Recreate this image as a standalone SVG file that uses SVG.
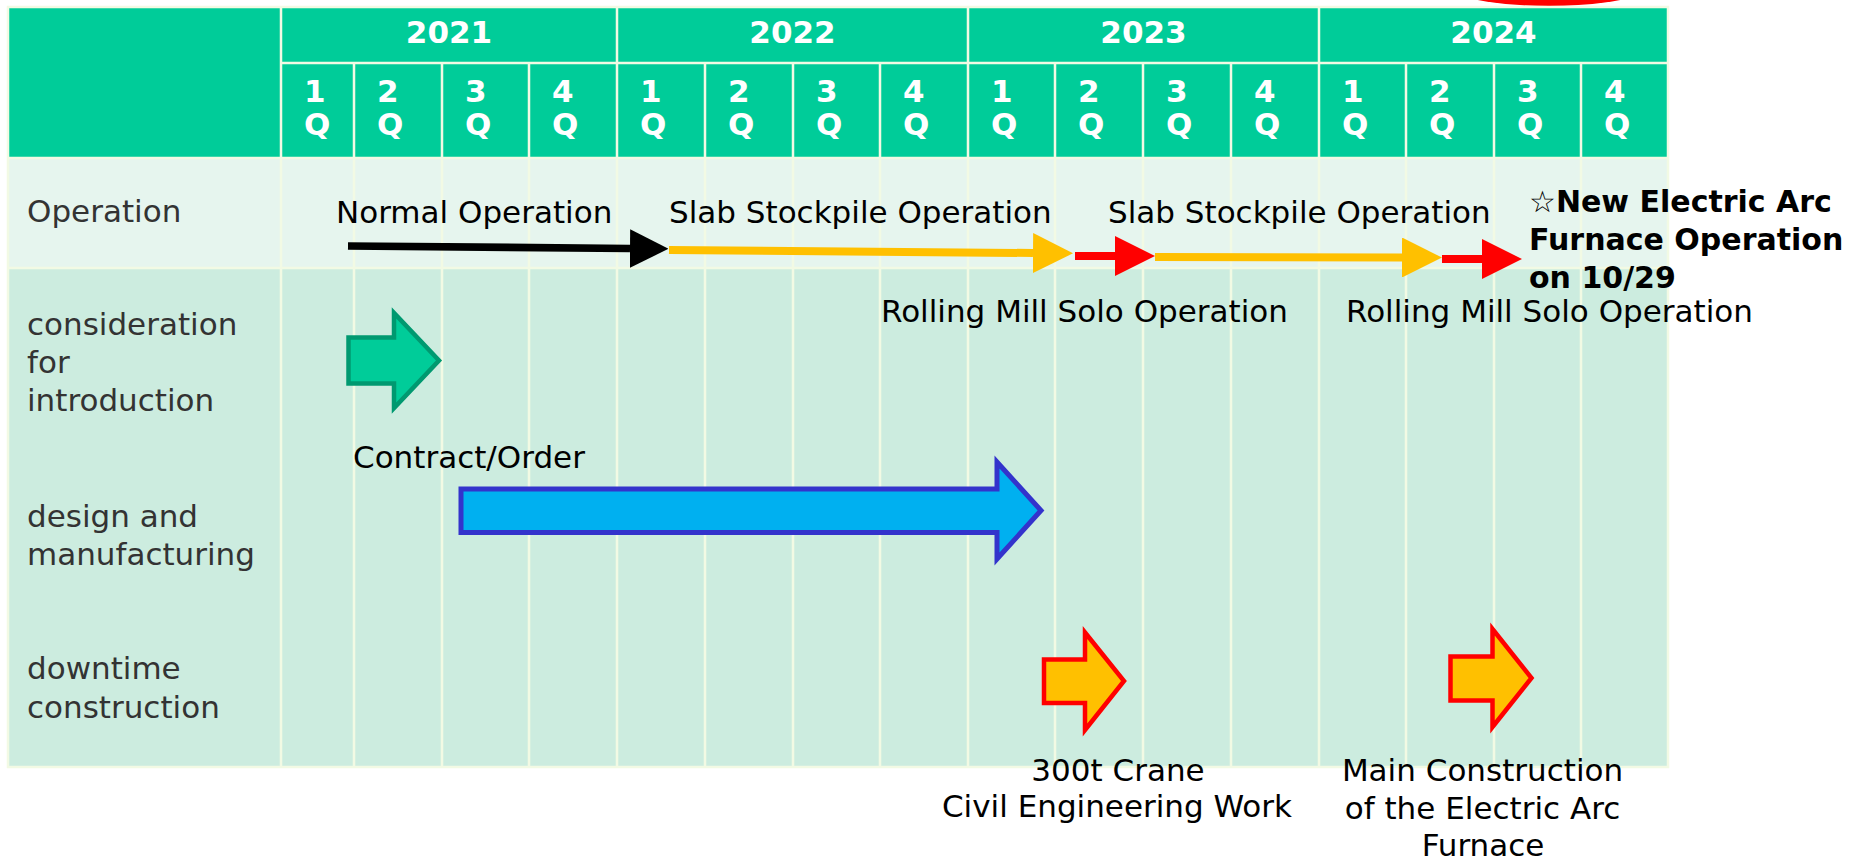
<svg xmlns="http://www.w3.org/2000/svg" width="1857" height="860" viewBox="0 0 1857 860">
  <style>
    text { font-family: "DejaVu Sans", "Liberation Sans", sans-serif; font-size: 31px; }
    .hd { fill: #FFFFFF; font-weight: bold; font-size: 31px; }
    .yr { text-anchor: middle; }
    .rl { fill: #333333; }
    .lb { fill: #000000; }
    .bd { fill: #000000; font-weight: bold; font-size: 30px; }
    .mid { text-anchor: middle; }
    .grid { stroke: #F2FAE4; stroke-width: 2.5; fill: none; }
    .conn { fill: none; stroke-linecap: butt; }
  </style>
  <defs>
    <marker id="hBlack" viewBox="0 0 5 5" refX="0" refY="2.5" markerWidth="5" markerHeight="5" orient="auto" markerUnits="strokeWidth">
      <path d="M0,0 L5,2.5 L0,5 z" fill="#000000"/>
    </marker>
    <marker id="hYellow" viewBox="0 0 5 5" refX="0" refY="2.5" markerWidth="5" markerHeight="5" orient="auto" markerUnits="strokeWidth">
      <path d="M0,0 L5,2.5 L0,5 z" fill="#FFC000"/>
    </marker>
    <marker id="hRed" viewBox="0 0 5 5" refX="0" refY="2.5" markerWidth="5" markerHeight="5" orient="auto" markerUnits="strokeWidth">
      <path d="M0,0 L5,2.5 L0,5 z" fill="#FF0000"/>
    </marker>
  </defs>

  <rect x="0" y="0" width="1857" height="860" fill="#FFFFFF"/>

  <!-- red ellipse edge peeking at top -->
  <ellipse id="highlight" cx="1549" cy="-44" rx="150" ry="50" fill="#FF0000"/>

  <!-- table -->
  <g id="table">
    <rect x="8" y="7" width="1660" height="151" fill="#00CC99"/>
    <rect x="8" y="158" width="1660" height="110" fill="#E6F5EE"/>
    <rect x="8" y="268" width="1660" height="499" fill="#CCECDF"/>
    <g class="grid">
      <rect x="8" y="7" width="1660" height="760"/>
      <line x1="281" y1="63" x2="1668" y2="63"/>
      <line x1="8" y1="158" x2="1668" y2="158"/>
      <line x1="8" y1="268" x2="1668" y2="268"/>
      <line x1="281" y1="7" x2="281" y2="767"/>
      <line x1="617" y1="7" x2="617" y2="767"/>
      <line x1="968" y1="7" x2="968" y2="767"/>
      <line x1="1319" y1="7" x2="1319" y2="767"/>
      <line x1="354" y1="63" x2="354" y2="767"/>
      <line x1="442" y1="63" x2="442" y2="767"/>
      <line x1="529" y1="63" x2="529" y2="767"/>
      <line x1="705" y1="63" x2="705" y2="767"/>
      <line x1="793" y1="63" x2="793" y2="767"/>
      <line x1="880" y1="63" x2="880" y2="767"/>
      <line x1="1055" y1="63" x2="1055" y2="767"/>
      <line x1="1143" y1="63" x2="1143" y2="767"/>
      <line x1="1231" y1="63" x2="1231" y2="767"/>
      <line x1="1406" y1="63" x2="1406" y2="767"/>
      <line x1="1494" y1="63" x2="1494" y2="767"/>
      <line x1="1581" y1="63" x2="1581" y2="767"/>
    </g>
  </g>

  <!-- header years -->
  <g id="years">
    <text class="hd yr" x="449" y="43">2021</text>
    <text class="hd yr" x="792.5" y="43">2022</text>
    <text class="hd yr" x="1143.5" y="43">2023</text>
    <text class="hd yr" x="1493.5" y="43">2024</text>
  </g>

  <!-- header quarters -->
  <g id="quarters">
    <text class="hd" x="304" y="102">1</text><text class="hd" x="304" y="135">Q</text>
    <text class="hd" x="377" y="102">2</text><text class="hd" x="377" y="135">Q</text>
    <text class="hd" x="465" y="102">3</text><text class="hd" x="465" y="135">Q</text>
    <text class="hd" x="552" y="102">4</text><text class="hd" x="552" y="135">Q</text>
    <text class="hd" x="640" y="102">1</text><text class="hd" x="640" y="135">Q</text>
    <text class="hd" x="728" y="102">2</text><text class="hd" x="728" y="135">Q</text>
    <text class="hd" x="816" y="102">3</text><text class="hd" x="816" y="135">Q</text>
    <text class="hd" x="903" y="102">4</text><text class="hd" x="903" y="135">Q</text>
    <text class="hd" x="991" y="102">1</text><text class="hd" x="991" y="135">Q</text>
    <text class="hd" x="1078" y="102">2</text><text class="hd" x="1078" y="135">Q</text>
    <text class="hd" x="1166" y="102">3</text><text class="hd" x="1166" y="135">Q</text>
    <text class="hd" x="1254" y="102">4</text><text class="hd" x="1254" y="135">Q</text>
    <text class="hd" x="1342" y="102">1</text><text class="hd" x="1342" y="135">Q</text>
    <text class="hd" x="1429" y="102">2</text><text class="hd" x="1429" y="135">Q</text>
    <text class="hd" x="1517" y="102">3</text><text class="hd" x="1517" y="135">Q</text>
    <text class="hd" x="1604" y="102">4</text><text class="hd" x="1604" y="135">Q</text>
  </g>

  <!-- row labels -->
  <g id="row-operation"><text class="rl" x="27" y="222">Operation</text></g>
  <g id="row-consideration">
    <text class="rl" x="27" y="335">consideration</text>
    <text class="rl" x="27" y="373">for</text>
    <text class="rl" x="27" y="411">introduction</text>
  </g>
  <g id="row-design">
    <text class="rl" x="27" y="527">design and</text>
    <text class="rl" x="27" y="565">manufacturing</text>
  </g>
  <g id="row-downtime">
    <text class="rl" x="27" y="679">downtime</text>
    <text class="rl" x="27" y="718">construction</text>
  </g>

  <!-- operation phase labels -->
  <g id="label-normal"><text class="lb" x="336" y="223">Normal Operation</text></g>
  <g id="label-slab1"><text class="lb" x="669" y="223">Slab Stockpile Operation</text></g>
  <g id="label-slab2"><text class="lb" x="1108" y="223">Slab Stockpile Operation</text></g>
  <g id="label-rolling1"><text class="lb" x="881" y="322">Rolling Mill Solo Operation</text></g>
  <g id="label-rolling2"><text class="lb" x="1346" y="322">Rolling Mill Solo Operation</text></g>
  <g id="label-eaf">
    <text class="bd" x="1529" y="212"><tspan font-weight="normal">☆</tspan>New Electric Arc</text>
    <text class="bd" x="1529" y="250">Furnace Operation</text>
    <text class="bd" x="1529" y="288">on 10/29</text>
  </g>

  <!-- operation connectors -->
  <g id="connectors" class="conn">
    <path d="M348,246 L630,248.5" stroke="#000000" stroke-width="7.7" marker-end="url(#hBlack)"/>
    <path d="M669,250 L1033,253" stroke="#FFC000" stroke-width="8" marker-end="url(#hYellow)"/>
    <path d="M1075,256 L1115,256" stroke="#FF0000" stroke-width="8" marker-end="url(#hRed)"/>
    <path d="M1155,257 L1402,257.5" stroke="#FFC000" stroke-width="8" marker-end="url(#hYellow)"/>
    <path d="M1442,259 L1482,259" stroke="#FF0000" stroke-width="8" marker-end="url(#hRed)"/>
  </g>

  <!-- block arrows -->
  <g id="arrow-consideration">
    <polygon points="348.5,337.5 394,337.5 394,313 439,360.5 394,408 394,383.5 348.5,383.5" fill="#00CC99" stroke="#009970" stroke-width="4.5"/>
  </g>
  <g id="arrow-design">
    <polygon points="461,489 997,489 997,462 1041,510.5 997,559 997,532.5 461,532.5" fill="#00B0F0" stroke="#3333CC" stroke-width="5"/>
    <text class="lb" x="353" y="468">Contract/Order</text>
  </g>
  <g id="arrow-crane">
    <polygon points="1044,659.5 1085,659.5 1085,632.5 1124,681 1085,730 1085,703 1044,703" fill="#FFC000" stroke="#FF0000" stroke-width="4.5"/>
    <text class="lb mid" x="1118" y="781">300t Crane</text>
    <text class="lb mid" x="1117" y="817">Civil Engineering Work</text>
  </g>
  <g id="arrow-main">
    <polygon points="1450.5,656.5 1492.5,656.5 1492.5,629 1531.5,678 1492.5,727 1492.5,700.5 1450.5,700.5" fill="#FFC000" stroke="#FF0000" stroke-width="4.5"/>
    <text class="lb mid" x="1482.5" y="781">Main Construction</text>
    <text class="lb mid" x="1482.5" y="819">of the Electric Arc</text>
    <text class="lb mid" x="1483" y="856">Furnace</text>
  </g>
</svg>
